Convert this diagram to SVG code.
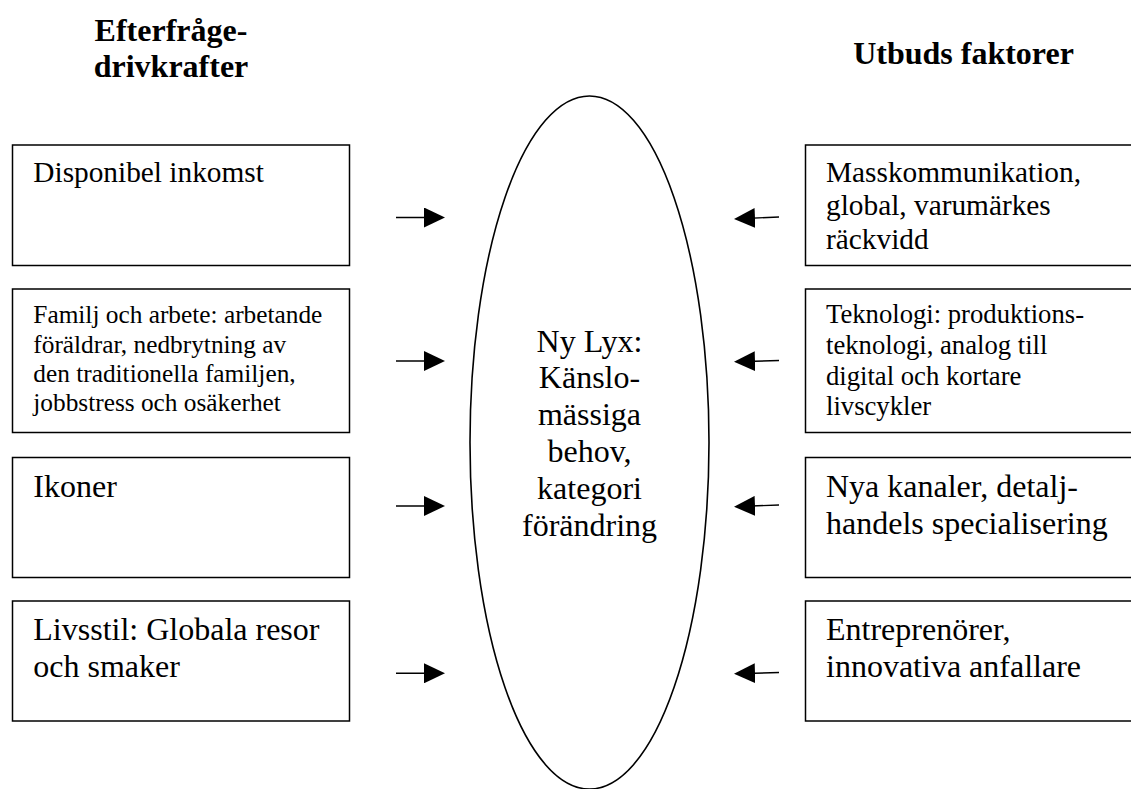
<svg xmlns="http://www.w3.org/2000/svg" width="1131" height="789" viewBox="0 0 1131 789">
<style>
  .box { fill: #ffffff; stroke: #000000; stroke-width: 1.5; }
  .oval { fill: #ffffff; stroke: #000000; stroke-width: 1.6; }
  .conn { fill: none; stroke: #000000; stroke-width: 1.4; }
  text { font-family: 'Liberation Serif', 'Tinos', 'Times New Roman', 'DejaVu Serif', serif; fill: #000000; }
  .h { font-weight: bold; font-size: 32px; text-anchor: middle; }
  .f32 { font-size: 32px; }
  .f29 { font-size: 29.33px; }
  .f27 { font-size: 26.67px; }
  .f25 { font-size: 25.33px; }
</style>
<defs>
  <marker id="ah" viewBox="0 0 21 20" refX="10" refY="10" markerWidth="21" markerHeight="20" markerUnits="userSpaceOnUse" orient="auto">
    <path d="M0,0 L21,10 L0,20 z" fill="#000000"/>
  </marker>
</defs>
<rect width="1131" height="789" fill="#ffffff"/>

<g id="header-left">
  <text class="h" x="171" y="40.5">Efterfråge-</text>
  <text class="h" x="171" y="76.5">drivkrafter</text>
</g>
<g id="header-right">
  <text class="h" x="963.5" y="64">Utbuds faktorer</text>
</g>

<g id="center">
  <ellipse class="oval" cx="589.5" cy="442.5" rx="119.5" ry="346.5"/>
  <text class="f32" text-anchor="middle" x="589.5" y="351.5">Ny Lyx:</text>
  <text class="f32" text-anchor="middle" x="589.5" y="388.3">Känslo-</text>
  <text class="f32" text-anchor="middle" x="589.5" y="425.1">mässiga</text>
  <text class="f32" text-anchor="middle" x="589.5" y="461.9">behov,</text>
  <text class="f32" text-anchor="middle" x="589.5" y="498.7">kategori</text>
  <text class="f32" text-anchor="middle" x="589.5" y="535.5">förändring</text>
</g>

<g id="left-1">
  <rect class="box" x="12.5" y="145" width="337" height="120.5"/>
  <text class="f29" x="33.3" y="182">Disponibel inkomst</text>
</g>
<g id="left-2">
  <rect class="box" x="12.5" y="289" width="337" height="143.5"/>
  <text class="f25" x="33.3" y="323.3">Familj och arbete: arbetande</text>
  <text class="f25" x="33.3" y="352.5">föräldrar, nedbrytning av</text>
  <text class="f25" x="33.3" y="381.7">den traditionella familjen,</text>
  <text class="f25" x="33.3" y="410.9">jobbstress och osäkerhet</text>
</g>
<g id="left-3">
  <rect class="box" x="12.5" y="457.5" width="337" height="120"/>
  <text class="f32" x="33.3" y="496.7">Ikoner</text>
</g>
<g id="left-4">
  <rect class="box" x="12.5" y="601" width="337" height="120"/>
  <text class="f32" x="33.3" y="640">Livsstil: Globala resor</text>
  <text class="f32" x="33.3" y="676.8">och smaker</text>
</g>

<g id="right-1">
  <rect class="box" x="805.5" y="145" width="340" height="120.5"/>
  <text class="f29" x="826" y="181.7">Masskommunikation,</text>
  <text class="f29" x="826" y="215.4">global, varumärkes</text>
  <text class="f29" x="826" y="249.1">räckvidd</text>
</g>
<g id="right-2">
  <rect class="box" x="805.5" y="289" width="340" height="143.5"/>
  <text class="f27" x="826" y="323.3">Teknologi: produktions-</text>
  <text class="f27" x="826" y="354">teknologi, analog till</text>
  <text class="f27" x="826" y="384.7">digital och kortare</text>
  <text class="f27" x="826" y="415.4">livscykler</text>
</g>
<g id="right-3">
  <rect class="box" x="805.5" y="457.5" width="340" height="120"/>
  <text class="f32" x="826" y="496.7">Nya kanaler, detalj-</text>
  <text class="f32" x="826" y="533.5">handels specialisering</text>
</g>
<g id="right-4">
  <rect class="box" x="805.5" y="601" width="340" height="120"/>
  <text class="f32" x="826" y="640">Entreprenörer,</text>
  <text class="f32" x="826" y="676.8">innovativa anfallare</text>
</g>

<g id="connectors">
  <line class="conn" x1="396" y1="217.5" x2="434" y2="217.5" marker-end="url(#ah)"/>
  <line class="conn" x1="396" y1="361" x2="434" y2="361" marker-end="url(#ah)"/>
  <line class="conn" x1="396" y1="506" x2="434" y2="506" marker-end="url(#ah)"/>
  <line class="conn" x1="396" y1="673.3" x2="434" y2="673.3" marker-end="url(#ah)"/>
  <line class="conn" x1="779" y1="217" x2="745" y2="218.5" marker-end="url(#ah)"/>
  <line class="conn" x1="779" y1="360.5" x2="745" y2="361.5" marker-end="url(#ah)"/>
  <line class="conn" x1="779" y1="505" x2="745" y2="506.3" marker-end="url(#ah)"/>
  <line class="conn" x1="779" y1="672.5" x2="745" y2="673.5" marker-end="url(#ah)"/>
</g>
</svg>
